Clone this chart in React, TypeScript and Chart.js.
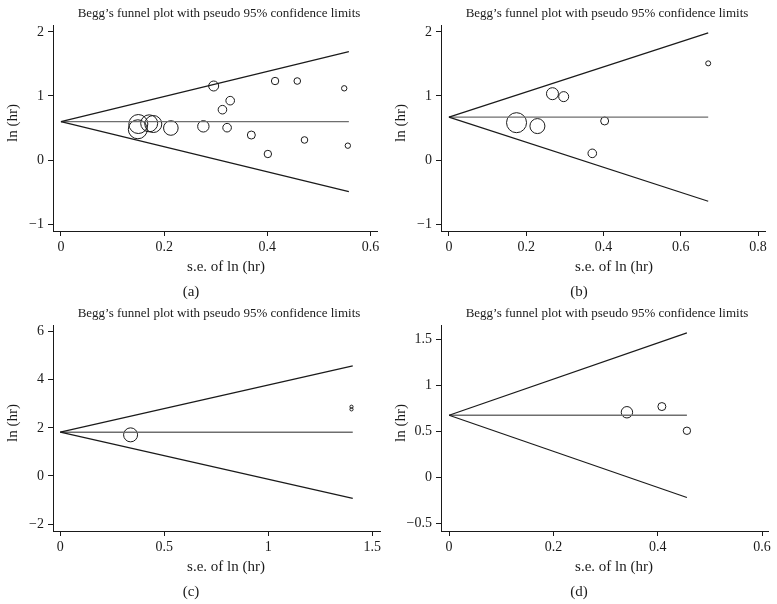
import React, { useEffect, useRef } from "react";
import { Chart, registerables } from "chart.js";
Chart.register(...registerables);

const FONT = '"Liberation Serif", "Times New Roman", serif';
const TITLE = "Begg\u2019s funnel plot with pseudo 95% confidence limits";
const X_TITLE = "s.e. of ln (hr)";
const Y_TITLE = "ln (hr)";

// ---------- Panel (a) ----------
const seA = [0.149, 0.15, 0.171, 0.179, 0.213, 0.276, 0.296, 0.313, 0.322, 0.328, 0.369, 0.401, 0.415, 0.458, 0.472, 0.549, 0.556];
const lnA = [0.48, 0.562, 0.573, 0.562, 0.5, 0.526, 1.156, 0.786, 0.505, 0.927, 0.39, 0.094, 1.234, 1.234, 0.313, 1.12, 0.224];
const weightA = [9.5, 9.5, 8.5, 8.5, 7.3, 5.7, 5, 4.3, 4.3, 4.3, 4, 3.7, 3.7, 3.3, 3.3, 2.7, 2.7];
const limSeA = [0, 0.558];
const centerA = [0.6, 0.6];
const upperA = [0.6, 1.694];
const lowerA = [0.6, -0.494];
const xTicksA = [0, 0.2, 0.4, 0.6];
const yTicksA = [-1, 0, 1, 2];
const xRangeA = [-0.0154, 0.6135];
const yRangeA = [-1.109, 2.109];

// ---------- Panel (b) ----------
const seB = [0.175, 0.229, 0.268, 0.297, 0.371, 0.403, 0.671];
const lnB = [0.583, 0.53, 1.036, 0.99, 0.104, 0.61, 1.51];
const weightB = [10, 7.5, 6, 5, 4.3, 4, 2.5];
const limSeB = [0, 0.671];
const centerB = [0.67, 0.67];
const upperB = [0.67, 1.985];
const lowerB = [0.67, -0.645];
const xTicksB = [0, 0.2, 0.4, 0.6, 0.8];
const yTicksB = [-1, 0, 1, 2];
const xRangeB = [-0.0205, 0.818];
const yRangeB = [-1.109, 2.109];

// ---------- Panel (c) ----------
const seC = [0.338, 1.4, 1.4];
const lnC = [1.71, 2.88, 2.77];
const weightC = [7, 1.6, 1.6];
const limSeC = [0, 1.406];
const centerC = [1.82, 1.82];
const upperC = [1.82, 4.576];
const lowerC = [1.82, -0.936];
const xTicksC = [0, 0.5, 1, 1.5];
const yTicksC = [-2, 0, 2, 4, 6];
const xRangeC = [-0.035, 1.537];
const yRangeC = [-2.29, 6.28];

// ---------- Panel (d) ----------
const seD = [0.341, 0.408, 0.456];
const lnD = [0.706, 0.768, 0.505];
const weightD = [5.7, 4, 3.7];
const limSeD = [0, 0.456];
const centerD = [0.674, 0.674];
const upperD = [0.674, 1.568];
const lowerD = [0.674, -0.22];
const xTicksD = [0, 0.2, 0.4, 0.6];
const yTicksD = [-0.5, 0, 0.5, 1, 1.5];
const xRangeD = [-0.0155, 0.6115];
const yRangeD = [-0.584, 1.654];

type Panel = {
  se: number[]; ln: number[]; weight: number[];
  limSe: number[]; center: number[]; upper: number[]; lower: number[];
  xTicks: number[]; yTicks: number[]; xRange: number[]; yRange: number[];
  caption: string;
};

const panels: Panel[] = [
  { se: seA, ln: lnA, weight: weightA, limSe: limSeA, center: centerA, upper: upperA, lower: lowerA, xTicks: xTicksA, yTicks: yTicksA, xRange: xRangeA, yRange: yRangeA, caption: "(a)" },
  { se: seB, ln: lnB, weight: weightB, limSe: limSeB, center: centerB, upper: upperB, lower: lowerB, xTicks: xTicksB, yTicks: yTicksB, xRange: xRangeB, yRange: yRangeB, caption: "(b)" },
  { se: seC, ln: lnC, weight: weightC, limSe: limSeC, center: centerC, upper: upperC, lower: lowerC, xTicks: xTicksC, yTicks: yTicksC, xRange: xRangeC, yRange: yRangeC, caption: "(c)" },
  { se: seD, ln: lnD, weight: weightD, limSe: limSeD, center: centerD, upper: upperD, lower: lowerD, xTicks: xTicksD, yTicks: yTicksD, xRange: xRangeD, yRange: yRangeD, caption: "(d)" },
];

const W = 388;
const H = 300;
const INK = "#1a1a1a";

const textPlugin = {
  id: "panelText",
  afterDraw(chart: any, _args: any, opts: any) {
    const ctx = chart.ctx;
    ctx.save();
    ctx.fillStyle = INK;
    ctx.textAlign = "center";
    ctx.textBaseline = "middle";
    ctx.font = `13px ${FONT}`;
    ctx.fillText(TITLE, 219, 14);
    ctx.font = `15px ${FONT}`;
    ctx.fillText(X_TITLE, 226, 267);
    ctx.fillText(opts.caption, 191, 292);
    ctx.translate(13, 123);
    ctx.rotate(-Math.PI / 2);
    ctx.fillText(Y_TITLE, 0, 0);
    ctx.restore();
  },
};

const fmt = (v: any) => String(v).replace("-", "\u2212");

function FunnelPanel({ p }: { p: Panel }) {
  const ref = useRef<HTMLCanvasElement | null>(null);
  useEffect(() => {
    if (!ref.current) return;
    const pts = p.se.map((s, i) => ({ x: s, y: p.ln[i] }));
    const line = (ys: number[]) => p.limSe.map((s, i) => ({ x: s, y: ys[i] }));
    const axisCommon = {
      type: "linear",
      border: { display: true, color: INK, width: 1 },
      grid: { display: true, drawOnChartArea: false, drawTicks: true, tickLength: 5, color: INK, lineWidth: 1 },
    };
    const chart = new Chart(ref.current, {
      type: "scatter",
      data: {
        datasets: [
          { type: "line", data: line(p.upper), borderColor: INK, borderWidth: 1.2, pointRadius: 0, fill: false },
          { type: "line", data: line(p.lower), borderColor: INK, borderWidth: 1.2, pointRadius: 0, fill: false },
          { type: "line", data: line(p.center), borderColor: "#6e6e6e", borderWidth: 1.4, pointRadius: 0, fill: false },
          {
            type: "scatter", data: pts, pointRadius: p.weight, pointHoverRadius: p.weight,
            pointStyle: "circle", backgroundColor: "rgba(0,0,0,0)", borderColor: INK, borderWidth: 1,
          },
        ],
      } as any,
      options: {
        animation: false,
        responsive: false,
        events: [],
        layout: { padding: { top: 25, right: 8, left: 0, bottom: 0 } },
        plugins: {
          legend: { display: false },
          tooltip: { enabled: false },
          panelText: { caption: p.caption },
        } as any,
        scales: {
          x: {
            ...axisCommon,
            min: p.xRange[0], max: p.xRange[1],
            afterBuildTicks: (s: any) => { s.ticks = p.xTicks.map((v) => ({ value: v })); },
            afterFit: (s: any) => { s.height = 69; },
            ticks: { color: INK, font: { family: FONT, size: 14 }, padding: 3, maxRotation: 0, minRotation: 0, callback: fmt },
          },
          y: {
            ...axisCommon,
            min: p.yRange[0], max: p.yRange[1],
            afterBuildTicks: (s: any) => { s.ticks = p.yTicks.map((v) => ({ value: v })); },
            afterFit: (s: any) => { s.width = 53; },
            ticks: { color: INK, font: { family: FONT, size: 14 }, padding: 4, callback: fmt },
          },
        } as any,
      },
      plugins: [textPlugin],
    } as any);
    return () => chart.destroy();
  }, [p]);
  return <canvas ref={ref} width={W} height={H} style={{ width: W, height: H, display: "block" }} />;
}

export default function App() {
  const pos = [
    { left: 0, top: 0 },
    { left: 388, top: 0 },
    { left: 0, top: 300 },
    { left: 388, top: 300 },
  ];
  return (
    <div style={{ position: "fixed", left: 0, top: 0, width: 777, height: 604, background: "#fff" }}>
      {panels.map((p, i) => (
        <div key={i} style={{ position: "absolute", left: pos[i].left, top: pos[i].top, width: W, height: H }}>
          <FunnelPanel p={p} />
        </div>
      ))}
    </div>
  );
}
